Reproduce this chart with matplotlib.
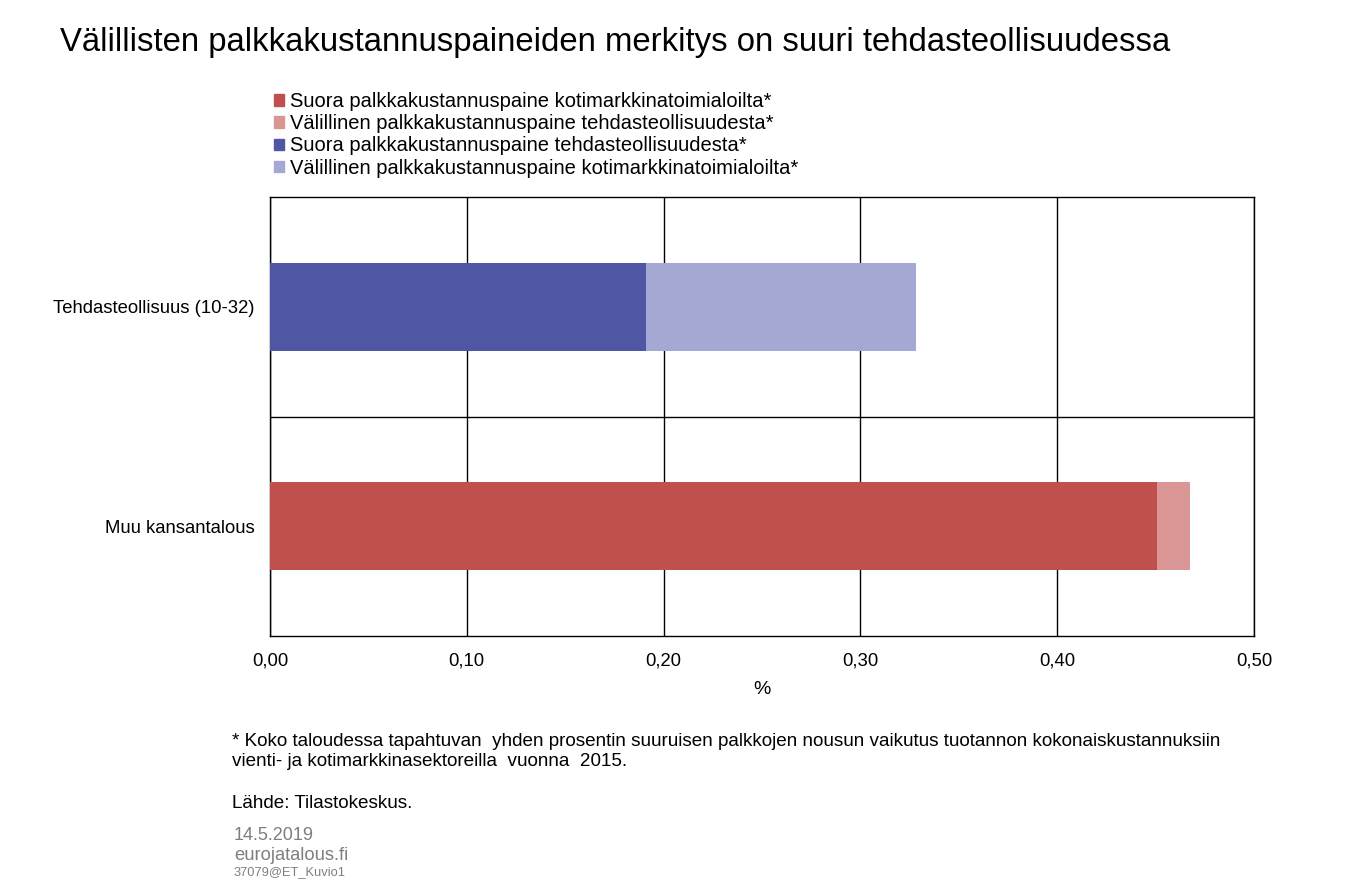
import matplotlib.pyplot as plt
import numpy as np
from matplotlib.ticker import FixedLocator, FuncFormatter
from matplotlib.patches import Patch

plt.rcParams['font.family'] = ['Liberation Sans', 'DejaVu Sans']

categories = ["Muu kansantalous", "Tehdasteollisuus (10-32)"]
suora_koti = [0.4507, 0.0]
valillinen_teh = [0.0168, 0.0]
suora_teh = [0.0, 0.191]
valillinen_koti = [0.0, 0.137]

labels = ["Suora palkkakustannuspaine kotimarkkinatoimialoilta*",
          "Välillinen palkkakustannuspaine tehdasteollisuudesta*",
          "Suora palkkakustannuspaine tehdasteollisuudesta*",
          "Välillinen palkkakustannuspaine kotimarkkinatoimialoilta*"]
colors = ["#c0504d", "#d99694", "#4f56a4", "#a4a9d4"]

fig = plt.figure(figsize=(13.49, 8.82), dpi=100)
ax = fig.add_axes([270 / 1349, 1 - 636 / 882, 984 / 1349, 439 / 882])

y = np.arange(len(categories))
h = 0.4
ax.barh(y, suora_koti, height=h, color=colors[0], zorder=3)
ax.barh(y, valillinen_teh, left=suora_koti, height=h, color=colors[1], zorder=3)
ax.barh(y, suora_teh, height=h, color=colors[2], zorder=3)
ax.barh(y, valillinen_koti, left=suora_teh, height=h, color=colors[3], zorder=3)

ax.set_xlim(0, 0.5)
ax.set_ylim(-0.5, 1.5)
ax.set_xticks(np.arange(0, 0.51, 0.1))
ax.xaxis.set_major_formatter(FuncFormatter(lambda v, p: f"{v:.2f}".replace(".", ",")))
ax.set_yticks(y)
ax.set_yticklabels(categories)
ax.yaxis.set_minor_locator(FixedLocator([0.5]))
ax.grid(axis='x', color='black', linewidth=1, zorder=1)
ax.grid(axis='y', which='minor', color='black', linewidth=1, zorder=1)
ax.tick_params(axis='both', length=0, labelsize=13.3, pad=11)
ax.tick_params(axis='y', which='minor', length=0)
ax.tick_params(axis='x', pad=12)
for s in ax.spines.values():
    s.set_color('black')
    s.set_linewidth(1)
ax.set_xlabel("%", fontsize=14, labelpad=8)

handles = [Patch(color=c) for c in colors]
fig.legend(handles, labels, loc='upper left', bbox_to_anchor=(274 / 1349, 1 - 92 / 882),
           frameon=False, fontsize=14.5, handlelength=0.5, handleheight=0.5,
           handletextpad=0.3, labelspacing=0.16, borderaxespad=0, borderpad=0)

fig.text(60 / 1349, 1 - 42 / 882, "Välillisten palkkakustannuspaineiden merkitys on suuri tehdasteollisuudessa",
         fontsize=23.7, va='center', ha='left')
fig.text(232 / 1349, 1 - 741 / 882, "* Koko taloudessa tapahtuvan  yhden prosentin suuruisen palkkojen nousun vaikutus tuotannon kokonaiskustannuksiin",
         fontsize=13.6, va='center')
fig.text(232 / 1349, 1 - 762 / 882, "vienti- ja kotimarkkinasektoreilla  vuonna  2015.", fontsize=13.6, va='center')
fig.text(232 / 1349, 1 - 804 / 882, "Lähde: Tilastokeskus.", fontsize=13.6, va='center')
fig.text(234 / 1349, 1 - 835 / 882, "14.5.2019", fontsize=13, color='#7f7f7f', va='center')
fig.text(234 / 1349, 1 - 855 / 882, "eurojatalous.fi", fontsize=13.2, color='#7f7f7f', va='center')
fig.text(234 / 1349, 1 - 872 / 882, "37079@ET_Kuvio1", fontsize=9.3, color='#7f7f7f', va='center')

fig.savefig("out.png", dpi=100)
